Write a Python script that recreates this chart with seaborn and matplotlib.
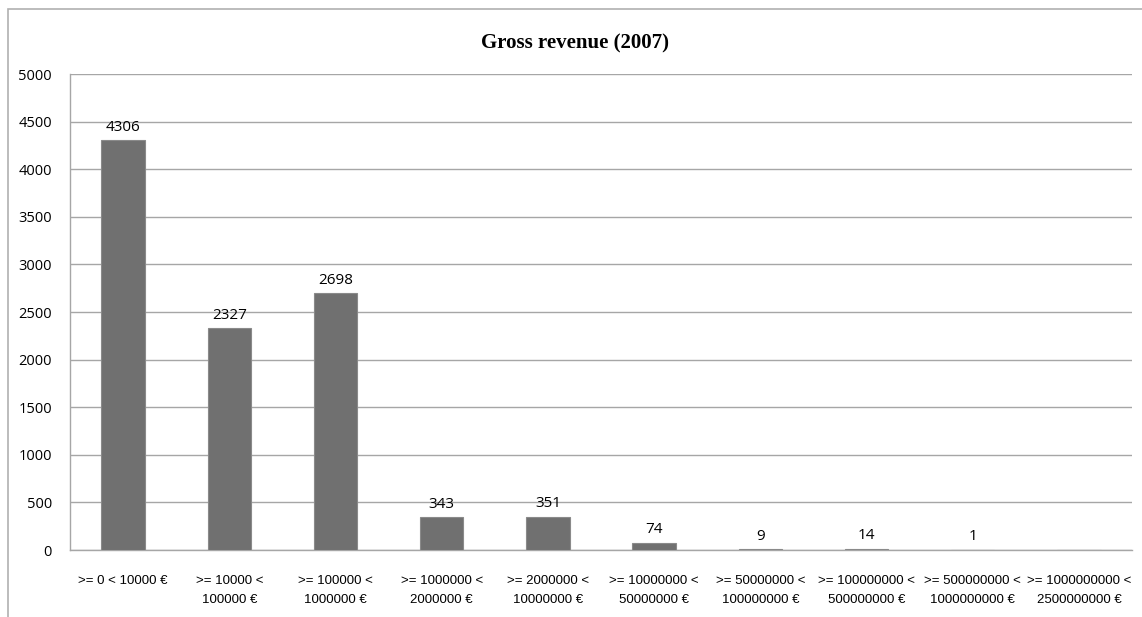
import matplotlib
matplotlib.use("Agg")
import matplotlib.pyplot as plt
import seaborn as sns
import pandas as pd
import numpy as np
from matplotlib.patches import Rectangle

categories = [">= 0 < 10000 €", ">= 10000 <\n100000 €", ">= 100000 <\n1000000 €",
              ">= 1000000 <\n2000000 €", ">= 2000000 <\n10000000 €", ">= 10000000 <\n50000000 €",
              ">= 50000000 <\n100000000 €", ">= 100000000 <\n500000000 €",
              ">= 500000000 <\n1000000000 €", ">= 1000000000 <\n2500000000 €"]
values = [4306, 2327, 2698, 343, 351, 74, 9, 14, 1, 0]
has_value = [True] * 9 + [False]
yticks = [0, 500, 1000, 1500, 2000, 2500, 3000, 3500, 4000, 4500, 5000]
title = "Gross revenue (2007)"

sns.set_style("white")
df = pd.DataFrame({"cat": categories, "val": values})

fig = plt.figure(figsize=(11.42, 6.17), dpi=100)
ax = fig.add_axes([70/1142, 1-550/617, (1132-70)/1142, (550-74)/617])

sns.barplot(data=df, x="cat", y="val", color="#707070", width=0.41, ax=ax,
            saturation=1, edgecolor="#8a8a8a", linewidth=0.8, zorder=3)

ax.set_ylim(0, 5000)
ax.set_xlim(-0.5, len(categories) - 0.5)
ax.set_yticks(yticks)
ax.set_yticklabels([str(t) for t in yticks], fontsize=10.5, color="black",
                   family=["Open Sans", "DejaVu Sans"])
ax.yaxis.grid(True, color="#a6a6a6", linewidth=1, zorder=0)
ax.set_axisbelow(True)
ax.tick_params(axis="y", length=5, color="#a6a6a6", width=1, pad=8)

ax.set_xticks(range(len(categories)))
ax.set_xticklabels(categories, fontsize=9.5, color="black",
                   family=["Liberation Sans Narrow", "Liberation Sans", "DejaVu Sans"],
                   linespacing=1.75)
ax.tick_params(axis="x", which="major", length=0, pad=18)
ax.set_xticks(np.arange(-0.5, len(categories)), minor=True)
ax.tick_params(axis="x", which="minor", length=5, color="#a6a6a6", width=1)

for s in ["top", "right"]:
    ax.spines[s].set_visible(False)
for s in ["left", "bottom"]:
    ax.spines[s].set_color("#a6a6a6")
    ax.spines[s].set_linewidth(1)
ax.set_xlabel("")
ax.set_ylabel("")

for i, (v, h) in enumerate(zip(values, has_value)):
    if h:
        ax.annotate(str(v), (i, v), xytext=(0, 4), textcoords="offset points",
                    ha="center", va="bottom", fontsize=11, color="black",
                    family=["Open Sans", "DejaVu Sans"])

fig.text(575/1142, 1-43/617, title, ha="center", va="center", fontsize=15,
         fontweight="bold", color="black", family=["Liberation Serif", "DejaVu Serif"])

fig.patches.append(Rectangle((8/1142, -0.1), 1.2, 1-9/617+0.1, transform=fig.transFigure,
                             fill=False, edgecolor="#b0b0b0", linewidth=1.2))

fig.savefig("out.png", dpi=100)
